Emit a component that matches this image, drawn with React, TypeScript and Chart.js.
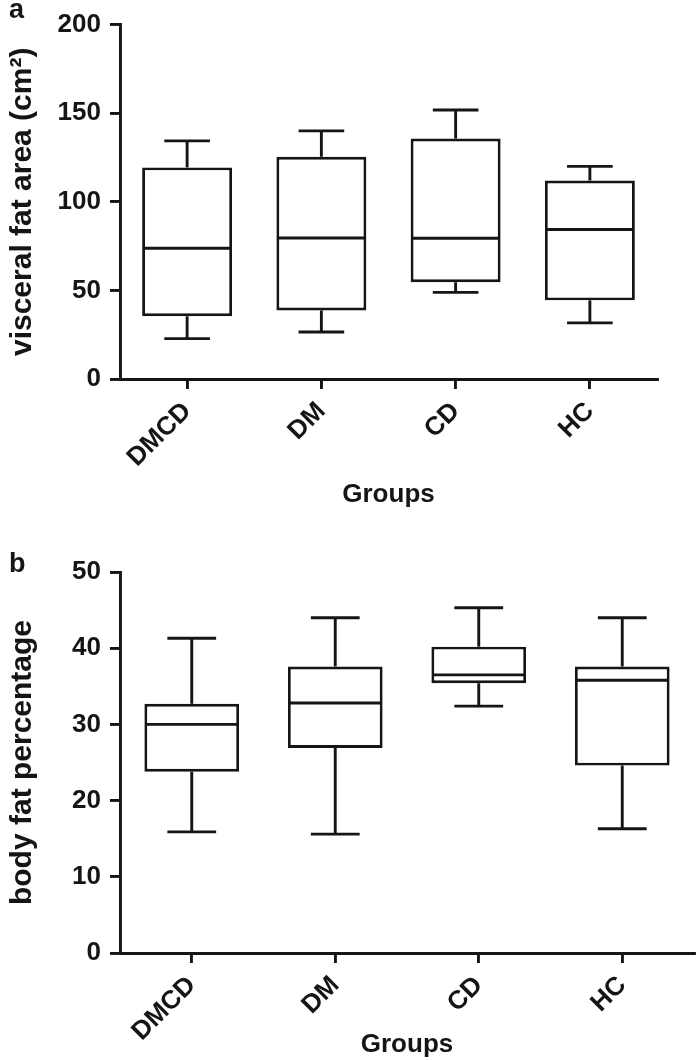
import React, { useEffect, useRef } from "react";
import { Chart, registerables } from "chart.js";

Chart.register(...registerables);

const groups = ["DMCD", "DM", "CD", "HC"];

const vfaMin = [22.8, 26.5, 48.9, 31.7];
const vfaQ1 = [35.4, 38.7, 54.6, 44.4];
const vfaMedian = [73.8, 79.6, 79.4, 84.4];
const vfaQ3 = [119.4, 125.4, 135.7, 112.0];
const vfaMax = [134.4, 140.0, 151.8, 120.0];
const vfaTicks = [0, 50, 100, 150, 200];

const bfpMin = [15.9, 15.6, 32.4, 16.3];
const bfpQ1 = [23.8, 26.9, 35.4, 24.6];
const bfpMedian = [30.0, 32.8, 36.5, 35.8];
const bfpQ3 = [32.7, 37.6, 40.2, 37.6];
const bfpMax = [41.3, 44.0, 45.3, 44.0];
const bfpTicks = [0, 10, 20, 30, 40, 50];

const INK = "#151515";
const FONT = "'Liberation Sans', Arial, Helvetica, sans-serif";
const LW = 2.9;

const boxPlugin = {
  id: "boxWhisker",
  afterDatasetsDraw(chart: any, _args: any, opts: any) {
    const { mins, medians, maxs, q1s, q3s, capRatio } = opts;
    const ctx = chart.ctx;
    const xs = chart.scales.x;
    const ys = chart.scales.y;
    const meta = chart.getDatasetMeta(0);
    const catW = (xs.right - xs.left) / groups.length;
    const capHalf = (catW * capRatio) / 2;
    ctx.save();
    ctx.strokeStyle = INK;
    ctx.lineWidth = LW;
    ctx.lineCap = "butt";
    const line = (x1: number, y1: number, x2: number, y2: number) => {
      ctx.beginPath();
      ctx.moveTo(x1, y1);
      ctx.lineTo(x2, y2);
      ctx.stroke();
    };
    meta.data.forEach((bar: any, i: number) => {
      const cx = bar.x;
      const half = bar.width / 2;
      const yMax = ys.getPixelForValue(maxs[i]);
      const yMin = ys.getPixelForValue(mins[i]);
      const yQ1 = ys.getPixelForValue(q1s[i]);
      const yQ3 = ys.getPixelForValue(q3s[i]);
      const yMed = ys.getPixelForValue(medians[i]);
      line(cx, yQ3, cx, yMax);
      line(cx - capHalf, yMax, cx + capHalf, yMax);
      line(cx, yQ1, cx, yMin);
      line(cx - capHalf, yMin, cx + capHalf, yMin);
      line(cx - half + 1, yMed, cx + half - 1, yMed);
    });
    ctx.restore();
  },
  afterDraw(chart: any, _args: any, opts: any) {
    const ctx = chart.ctx;
    ctx.save();
    ctx.fillStyle = INK;
    ctx.font = `bold 27px ${FONT}`;
    ctx.textAlign = "left";
    ctx.textBaseline = "alphabetic";
    ctx.fillText(opts.panelLabel, opts.labelX, opts.labelY);
    ctx.restore();
  },
};

function makeConfig(p: {
  q1: number[];
  q3: number[];
  mins: number[];
  maxs: number[];
  medians: number[];
  ticks: number[];
  yTitle: string;
  panelLabel: string;
  labelY: number;
  padTop: number;
  padRight: number;
  xHeight: number;
  groupsPad: number;
  barPct: number;
}) {
  const tickVals = p.ticks;
  return {
    type: "bar" as const,
    data: {
      labels: groups,
      datasets: [
        {
          data: groups.map((_, i) => [p.q1[i], p.q3[i]]),
          backgroundColor: "#ffffff",
          borderColor: INK,
          borderWidth: LW,
          borderSkipped: false,
          barPercentage: p.barPct,
          categoryPercentage: 1,
        },
      ],
    },
    options: {
      responsive: false,
      animation: false,
      devicePixelRatio: 1,
      layout: { padding: { left: 0, top: p.padTop, right: p.padRight, bottom: 0 } },
      plugins: {
        legend: { display: false },
        tooltip: { enabled: false },
        boxWhisker: {
          mins: p.mins,
          maxs: p.maxs,
          medians: p.medians,
          q1s: p.q1,
          q3s: p.q3,
          capRatio: 0.34,
          panelLabel: p.panelLabel,
          labelX: 9,
          labelY: p.labelY,
        },
      },
      scales: {
        x: {
          type: "category",
          offset: true,
          grid: {
            display: true,
            drawOnChartArea: false,
            drawTicks: true,
            tickLength: 10,
            color: INK,
            lineWidth: LW,
            offset: false,
          },
          border: { display: true, color: INK, width: LW },
          ticks: {
            autoSkip: false,
            maxRotation: 45,
            minRotation: 45,
            padding: 7,
            color: INK,
            font: { family: FONT, size: 26, weight: "bold" },
          },
          title: {
            display: true,
            text: "Groups",
            color: INK,
            font: { family: FONT, size: 26, weight: "bold" },
            padding: { top: 0, bottom: p.groupsPad },
          },
          afterFit: (s: any) => {
            s.height = p.xHeight;
          },
        },
        y: {
          type: "linear",
          min: tickVals[0],
          max: tickVals[tickVals.length - 1],
          afterBuildTicks: (s: any) => {
            s.ticks = tickVals.map((v) => ({ value: v }));
          },
          grid: {
            display: true,
            drawOnChartArea: false,
            drawTicks: true,
            tickLength: 10,
            color: INK,
            lineWidth: LW,
          },
          border: { display: true, color: INK, width: LW },
          ticks: {
            padding: 9,
            color: INK,
            font: { family: FONT, size: 26, weight: "bold" },
          },
          title: {
            display: true,
            text: p.yTitle,
            color: INK,
            font: { family: FONT, size: 30, weight: "bold" },
            padding: { top: 5, bottom: 0 },
          },
          afterFit: (s: any) => {
            s.width = 120;
          },
        },
      },
    },
    plugins: [boxPlugin],
  };
}

function App() {
  const refA = useRef<HTMLCanvasElement | null>(null);
  const refB = useRef<HTMLCanvasElement | null>(null);

  useEffect(() => {
    document.body.style.margin = "0";
    const a = new Chart(
      refA.current as HTMLCanvasElement,
      makeConfig({
        q1: vfaQ1,
        q3: vfaQ3,
        mins: vfaMin,
        maxs: vfaMax,
        medians: vfaMedian,
        ticks: vfaTicks,
        yTitle: "visceral fat area (cm²)",
        panelLabel: "a",
        labelY: 18,
        padTop: 19,
        padRight: 39,
        xHeight: 151,
        groupsPad: 20,
        barPct: 0.67,
      }) as any
    );
    const b = new Chart(
      refB.current as HTMLCanvasElement,
      makeConfig({
        q1: bfpQ1,
        q3: bfpQ3,
        mins: bfpMin,
        maxs: bfpMax,
        medians: bfpMedian,
        ticks: bfpTicks,
        yTitle: "body fat percentage",
        panelLabel: "b",
        labelY: 42,
        padTop: 42,
        padRight: 2,
        xHeight: 107,
        groupsPad: 0,
        barPct: 0.66,
      }) as any
    );
    return () => {
      a.destroy();
      b.destroy();
    };
  }, []);

  return (
    <div style={{ width: 696, height: 1060, background: "#fff" }}>
      <canvas ref={refA} width={696} height={530} style={{ display: "block" }} />
      <canvas ref={refB} width={696} height={530} style={{ display: "block" }} />
    </div>
  );
}

export default App;
